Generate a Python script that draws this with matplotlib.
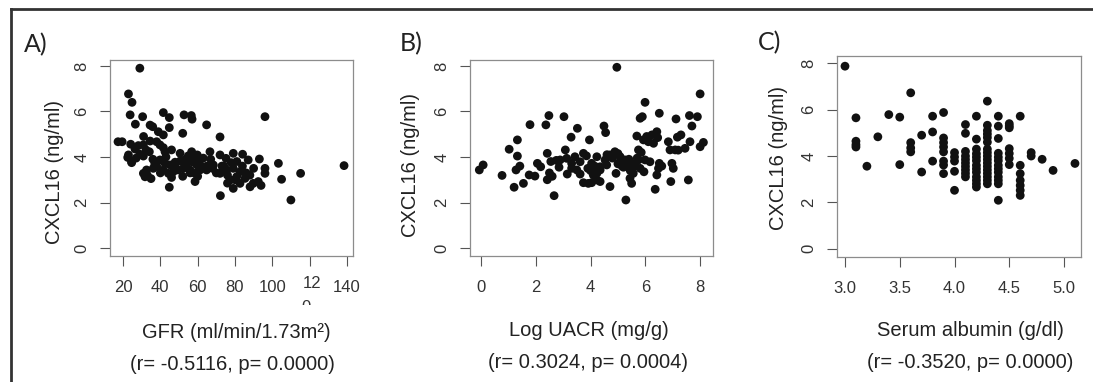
import matplotlib
matplotlib.use("Agg")
import matplotlib.pyplot as plt
from matplotlib.lines import Line2D
from matplotlib.transforms import Bbox

# ---- data ----
gfr = [17.3, 19.5, 22.5, 24.6, 22.9, 24.8, 23.8, 30.5, 26.6, 29.0,
       41.6, 44.8, 52.7, 56.6, 57.0, 64.8, 34.5, 35.9, 44.8, 38.9, 41.6, 52.0, 72.0, 96.1,
       31.0, 34.5, 24.1, 26.4, 28.2, 30.9, 32.3, 34.1, 38.0, 39.8, 41.6, 42.5,
       22.9, 24.6, 29.0, 30.9, 46.0, 50.6, 56.8, 59.8, 66.6, 72.0, 75.2,
       32.6, 36.2, 39.8, 42.5, 45.2, 47.9, 50.6, 53.2, 56.8, 59.5,
       41.6, 44.3, 46.9, 49.6, 52.3, 55.9, 58.6, 61.3,
       31.8, 30.9, 44.8, 58.6, 72.2,
       64.8, 68.4, 72.0, 75.6, 77.4,
       79.1, 84.1, 87.1, 93.1, 103.3, 96.1, 96.1, 105.0, 115.2, 138.5, 110.0,
       79.1, 82.7, 80.9, 85.4, 89.8, 92.5, 79.1, 82.7, 88.1,
       36, 38, 40, 43, 48, 54, 55, 57, 60, 62, 63, 68, 70, 74, 76, 78, 80, 84, 86, 90,
       27, 33, 35, 37, 46, 52, 56, 60, 65, 67, 73, 76, 81, 88, 94]
cxcl_a = [4.67, 4.67, 3.98, 3.75, 6.77, 6.40, 5.85, 5.77, 5.44, 7.90,
          5.95, 5.73, 5.85, 5.82, 5.66, 5.41, 5.40, 5.33, 5.29, 5.11, 4.97, 5.04, 4.88, 5.77,
          4.90, 4.70, 4.56, 4.35, 4.50, 4.53, 4.31, 4.23, 4.67, 4.53, 4.41, 4.23,
          4.09, 3.79, 4.12, 4.04, 4.31, 4.16, 4.23, 4.09, 4.23, 4.09, 3.94,
          3.43, 3.50, 3.87, 3.72, 3.65, 3.77, 3.82, 3.87, 3.79, 3.65,
          3.43, 3.28, 3.35, 3.43, 3.50, 3.43, 3.28, 3.43,
          3.13, 3.28, 2.67, 2.92, 2.30,
          3.43, 3.65, 3.28, 3.43, 2.99,
          4.16, 4.12, 3.87, 3.91, 3.72, 3.50, 3.28, 3.02, 3.28, 3.62, 2.11,
          3.50, 3.35, 3.13, 3.06, 2.84, 2.92, 2.62, 2.84, 2.69,
          3.9, 3.6, 3.3, 4.0, 3.55, 3.7, 4.05, 4.0, 3.8, 3.6, 3.95, 3.5, 3.3, 3.6, 3.2, 3.75, 3.0, 3.6, 3.3, 3.5,
          3.95, 3.2, 3.05, 3.7, 3.1, 3.15, 3.3, 3.15, 3.6, 3.9, 3.6, 2.85, 3.8, 3.2, 2.75]

uacr = [-0.06, 0.08, 0.77, 1.03, 1.21, 1.33, 1.33, 1.28, 1.42, 1.55, 1.79, 1.76, 1.97, 2.06, 2.18,
        2.37, 2.48, 2.42, 2.42, 2.50, 2.60, 2.55, 2.67, 3.03, 3.08, 3.15, 3.29, 3.52, 2.89, 3.13,
        3.31, 3.43, 3.62, 3.74, 3.50, 3.31, 3.96, 3.62, 3.74, 3.92, 4.04, 4.23, 4.35, 4.04, 4.23,
        4.35, 4.53, 4.59, 4.49, 4.55, 4.71, 4.35, 4.23, 4.10, 4.96, 4.71, 4.89, 5.08, 5.26, 5.38,
        5.50, 5.63, 5.75, 5.81, 5.56, 5.44, 5.50, 5.00, 5.10, 5.20, 5.30, 5.40, 5.29, 4.93, 5.69,
        5.81, 5.89, 5.99, 5.75, 5.93, 6.11, 6.24, 6.42, 5.99, 6.17, 5.95, 6.51, 6.36, 6.51, 6.48,
        6.42, 6.84, 6.90, 6.97, 7.02, 7.09, 6.93, 7.12, 7.17, 7.30, 7.45, 7.63, 7.70, 7.61, 7.90,
        8.00, 7.57, 8.00, 8.12,
        4.6, 4.8, 5.0, 5.15, 5.45, 5.6, 5.7, 3.9, 4.0, 4.15, 3.85, 2.75, 2.85, 6.3, 6.45, 6.6,
        7.2, 6.05, 5.85]
cxcl_b = [3.43, 3.65, 3.19, 4.34, 2.67, 4.75, 4.04, 3.43, 3.60, 2.84, 5.42, 3.21, 3.16, 3.72, 3.57,
          5.41, 5.82, 4.16, 3.00, 3.30, 3.15, 3.80, 2.30, 5.77, 4.31, 3.25, 4.87, 5.26, 3.87, 3.94,
          3.72, 4.01, 3.79, 4.16, 3.43, 3.50, 4.75, 3.25, 2.87, 2.84, 2.87, 2.99, 2.92, 3.72, 4.01,
          3.57, 3.87, 3.65, 5.36, 5.07, 2.70, 3.43, 3.28, 3.21, 7.94, 4.09, 4.23, 4.01, 3.87, 3.65,
          3.50, 3.72, 3.87, 3.50, 3.28, 3.06, 2.84, 3.70, 3.85, 3.55, 3.75, 3.90, 2.11, 3.28, 4.92,
          5.70, 5.77, 6.40, 4.31, 4.75, 4.67, 4.97, 5.11, 3.87, 3.79, 3.35, 5.92, 2.58, 3.72, 3.50,
          3.21, 4.67, 4.31, 3.72, 3.50, 4.31, 2.92, 5.67, 4.87, 4.97, 4.38, 4.67, 5.36, 5.82, 5.77,
          6.77, 2.99, 4.45, 4.64,
          4.1, 3.95, 4.15, 3.6, 3.4, 3.6, 3.95, 3.5, 3.4, 3.6, 4.05, 3.85, 3.55, 4.6, 4.85, 3.6,
          4.3, 4.9, 4.2]

albumin = [3.0,
           3.1, 3.1, 3.1, 3.1,
           3.2, 3.3, 3.4, 3.5, 3.5,
           3.6, 3.6, 3.6, 3.6,
           3.7, 3.7, 3.8, 3.8, 3.8,
           3.9, 3.9, 3.9, 3.9, 3.9, 3.9, 3.9, 3.9,
           4.0, 4.0, 4.0, 4.0, 4.0,
           4.1, 4.1, 4.1, 4.1, 4.1, 4.1, 4.1, 4.1, 4.1, 4.1,
           4.2, 4.2, 4.2, 4.2, 4.2, 4.2, 4.2, 4.2, 4.2, 4.2, 4.2, 4.2, 4.2,
           4.3, 4.3, 4.3, 4.3, 4.3, 4.3, 4.3, 4.3, 4.3, 4.3, 4.3, 4.3, 4.3, 4.3, 4.3, 4.3, 4.3,
           4.4, 4.4, 4.4, 4.4, 4.4, 4.4, 4.4, 4.4, 4.4, 4.4, 4.4, 4.4, 4.4,
           4.5, 4.5, 4.5, 4.5, 4.5, 4.5, 4.5,
           4.6, 4.6, 4.6, 4.6, 4.6, 4.6, 4.6,
           4.7, 4.7, 4.8, 4.9, 5.1]
cxcl_c = [7.88,
          5.65, 4.64, 4.49, 4.39,
          3.56, 4.83, 5.79, 5.68, 3.63,
          6.73, 4.58, 4.35, 4.18,
          4.90, 3.31, 5.72, 5.04, 3.78,
          5.88, 4.78, 4.58, 4.39, 4.18, 3.78, 3.61, 3.24,
          4.15, 3.96, 3.78, 3.34, 2.52,
          5.36, 4.98, 4.20, 4.00, 3.85, 3.70, 3.55, 3.40, 3.25, 3.10,
          5.72, 4.73, 4.30, 4.10, 3.95, 3.80, 3.60, 3.45, 3.30, 3.10, 2.95, 2.80, 2.66,
          6.37, 5.33, 5.10, 4.95, 4.80, 4.60, 4.30, 4.15, 4.00, 3.85, 3.70, 3.55, 3.40, 3.25, 3.10, 2.95, 2.80,
          5.72, 5.29, 4.76, 4.12, 3.95, 3.80, 3.60, 3.45, 3.30, 3.10, 2.95, 2.80, 2.09,
          5.40, 5.22, 4.32, 4.11, 3.90, 3.63, 5.30,
          5.72, 3.60, 3.24, 2.95, 2.73, 2.52, 2.30,
          4.15, 4.00, 3.86, 3.38, 3.68]

panel_letters = ["A)", "B)", "C)"]
y_label = "CXCL16 (ng/ml)"
x_labels = ["GFR (ml/min/1.73m\u00b2)", "Log UACR (mg/g)", "Serum albumin (g/dl)"]
stats = ["(r= -0.5116, p= 0.0000)", "(r= 0.3024, p= 0.0004)", "(r= -0.3520, p= 0.0000)"]
x_ticks = [[20, 40, 60, 80, 100, 120, 140], [0, 2, 4, 6, 8], [3.0, 3.5, 4.0, 4.5, 5.0]]
x_ticklabels = [["20", "40", "60", "80", "100", "", "140"],
                ["0", "2", "4", "6", "8"],
                ["3.0", "3.5", "4.0", "4.5", "5.0"]]
y_ticks = [0, 2, 4, 6, 8]

W, H = 1093, 382
fig = plt.figure(figsize=(W / 100, H / 100), dpi=100)

def box(x0, y0, x1, y1):
    return [x0 / W, 1 - y1 / H, (x1 - x0) / W, (y1 - y0) / H]

def ftext(x, y, s, **kw):
    return fig.text(x / W, 1 - y / H, s, **kw)

narrow = ["Liberation Sans Narrow", "Liberation Sans", "DejaVu Sans"]
sans = ["Liberation Sans", "DejaVu Sans"]

# axes boxes, xlims, ylims (pixels measured on the reference)
boxes = [(110, 60, 353, 256), (470, 60, 713, 256), (837, 56, 1081, 257)]
xlims = [(13.0, 143.3), (-0.40, 8.47), (2.927, 5.155)]
ylims = [(-0.35, 8.26), (-0.35, 8.26), (-0.36, 8.32)]
xs = [gfr, uacr, albumin]
ys = [cxcl_a, cxcl_b, cxcl_c]

letter_pos = [(36, 45), (411, 44), (770, 43)]
ylab_pos = [(54, 172), (410, 165), (779, 158)]
xlab_pos = [(236, 332), (589, 331), (970, 331)]
stat_pos = [(232, 364), (588, 363), (970, 363)]

for i in range(3):
    ax = fig.add_axes(box(*boxes[i]))
    ax.scatter(xs[i], ys[i], s=40, color="#111111", edgecolors="none", zorder=3)
    ax.set_xlim(*xlims[i])
    ax.set_ylim(*ylims[i])
    ax.set_xticks(x_ticks[i])
    ax.set_xticklabels(x_ticklabels[i], fontfamily=narrow, fontsize=12, color="#333333")
    ax.set_yticks(y_ticks)
    ax.set_yticklabels([str(v) for v in y_ticks], fontfamily=narrow, fontsize=12,
                       color="#333333", rotation=90, va="center")
    ax.tick_params(axis="both", length=7, width=0.8, color="#555555")
    ax.tick_params(axis="y", pad=8)
    ax.tick_params(axis="x", pad=10)
    for sp in ax.spines.values():
        sp.set_color("#8c8c8c")
        sp.set_linewidth(0.9)

    ftext(*letter_pos[i], panel_letters[i], fontfamily=["Lato", "Liberation Sans"],
          fontsize=18, ha="center", va="center", color="#222222")
    ftext(*ylab_pos[i], y_label, fontfamily=sans, fontsize=14.5, rotation=90,
          ha="center", va="center", color="#222222")
    ftext(*xlab_pos[i], x_labels[i], fontfamily=sans, fontsize=14.5,
          ha="center", va="center", color="#222222")
    ftext(*stat_pos[i], stats[i], fontfamily=sans, fontsize=14.5,
          ha="center", va="center", color="#222222")

# the broken "120" tick label on panel A
ftext(312, 283, "12", fontfamily=narrow, fontsize=12, ha="center", va="center", color="#333333")
zero = ftext(306, 307, "0", fontfamily=narrow, fontsize=12, ha="center", va="center", color="#333333")
zero.set_clip_box(Bbox([[290, H - 305], [325, H - 296]]))
zero.set_clip_on(True)

# outer frame (left and top)
fig.add_artist(Line2D([10.5 / W, 10.5 / W], [0, 1 - 8.5 / H], transform=fig.transFigure,
                      color="#333333", lw=2.0))
fig.add_artist(Line2D([10.5 / W, 1], [1 - 8.5 / H, 1 - 8.5 / H], transform=fig.transFigure,
                      color="#333333", lw=2.0))

fig.savefig("out.png", dpi=100)
